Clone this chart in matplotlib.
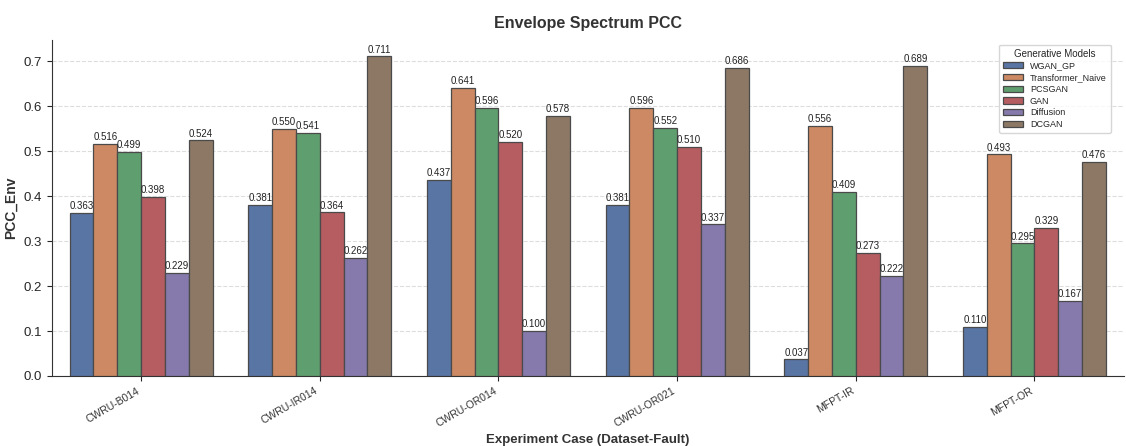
import numpy as np
import matplotlib
matplotlib.use('Agg')
import matplotlib.pyplot as plt
import seaborn as sns

cases = ['CWRU-B014', 'CWRU-IR014', 'CWRU-OR014', 'CWRU-OR021', 'MFPT-IR', 'MFPT-OR']
models = ['WGAN_GP', 'Transformer_Naive', 'PCSGAN', 'GAN', 'Diffusion', 'DCGAN']

wgan_gp           = [0.363, 0.381, 0.437, 0.381, 0.037, 0.110]
transformer_naive = [0.516, 0.550, 0.641, 0.596, 0.556, 0.493]
pcsgan            = [0.499, 0.541, 0.596, 0.552, 0.409, 0.295]
gan               = [0.398, 0.364, 0.520, 0.510, 0.273, 0.329]
diffusion         = [0.229, 0.262, 0.100, 0.337, 0.222, 0.167]
dcgan             = [0.524, 0.711, 0.578, 0.686, 0.689, 0.476]

series = [wgan_gp, transformer_naive, pcsgan, gan, diffusion, dcgan]

sns.set_style('ticks')
plt.rcParams['font.family'] = ['Liberation Sans', 'DejaVu Sans']
# barplot-style muted colours
colors = [sns.desaturate(c, 0.75) for c in sns.color_palette('deep', len(models))]

fig = plt.figure(figsize=(11.26, 4.46), dpi=100)
ax = fig.add_axes([0.046, 0.157, 0.952, 0.753])

x = np.arange(len(cases))
width = 0.8 / len(models)
for i, (name, vals) in enumerate(zip(models, series)):
    pos = x - 0.4 + width * (i + 0.5)
    bars = ax.bar(pos, vals, width, color=colors[i], edgecolor='#4a4a4a',
                  linewidth=0.9, label=name, zorder=3)
    for b, v in zip(bars, vals):
        ax.text(b.get_x() + b.get_width() / 2, v + 0.004, f'{v:.3f}',
                ha='center', va='bottom', fontsize=7, color='#222222', zorder=4)

ax.set_xlim(-0.5, len(cases) - 0.5)
ax.set_ylim(0, 0.747)
ax.set_xticks(x)
ax.set_xticklabels(cases, rotation=30, ha='right', fontsize=7.5, color='#333333')
ax.tick_params(axis='y', labelsize=9.5)
ax.yaxis.grid(True, linestyle='--', color='#dddddd', linewidth=0.8, zorder=0)
ax.set_ylabel('PCC_Env', fontsize=10, fontweight='bold', color='#333333')
ax.set_xlabel('Experiment Case (Dataset-Fault)', fontsize=9.5, fontweight='bold',
              color='#333333')
ax.set_title('Envelope Spectrum PCC', fontsize=11.5, fontweight='bold',
             color='#333333', pad=9)
for s in ['left', 'bottom']:
    ax.spines[s].set_color('#333333')
sns.despine(ax=ax)

leg = ax.legend(title='Generative Models', loc='upper right', fontsize=6.5,
                title_fontsize=7, frameon=True, handlelength=2.2,
                borderpad=0.45, labelspacing=0.3, bbox_to_anchor=(0.992, 1.0))
leg.get_frame().set_edgecolor('#cccccc')

fig.savefig('out.png', dpi=100)
